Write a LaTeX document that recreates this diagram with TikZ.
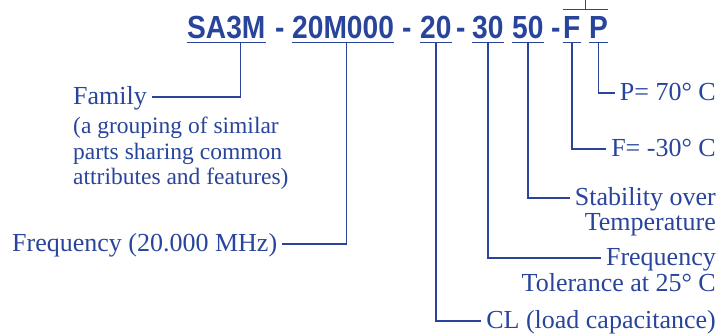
\documentclass[tikz,border=0pt]{standalone}
\usepackage{fontspec}
\setmainfont{Liberation Serif}
\newfontfamily\codefont[FakeStretch=0.88]{Liberation Sans}
\usetikzlibrary{calc,positioning}
\definecolor{partblue}{RGB}{41,69,155}

\tikzset{
  code/.style={inner sep=0pt, anchor=base west, text=partblue,
    font=\codefont\bfseries\fontsize{32}{32}\selectfont},
  desc/.style={inner xsep=5pt, inner ysep=0pt, text=partblue,
    font=\fontsize{26}{26}\selectfont},
  lead/.style={draw=partblue, line width=1.4pt},
}

\begin{document}
\begin{tikzpicture}[x=1pt,y=-1pt]
  \useasboundingbox (0,0) rectangle (721,333);
  % part number
  \node[code] (sa3m) at (187,38) {SA3M};
  \node[code] (dasha) at (275,38) {-};
  \node[code] (freqcode) at (292,38) {20M000};
  \node[code] (dashb) at (402,38) {-};
  \node[code] (clcode) at (420,38) {20};
  \node[code] (dashc) at (456,38) {-};
  \node[code] (tolcode) at (472,38) {30};
  \node[code] (stabcode) at (512,38) {50};
  \node[code] (dashd) at (551,38) {-};
  \node[code] (fcode) at (563,38) {F};
  \node[code] (pcode) at (589,38) {P};
  \foreach \n in {sa3m,freqcode,clcode,tolcode,stabcode,fcode,pcode}{
    \draw[lead] ([yshift=-4pt]\n.south west) -- ([yshift=-4pt]\n.south east);
  }
  \draw[lead] ([yshift=6pt]fcode.north west) -- ([yshift=6pt]pcode.north east);
  \coordinate (fpbar) at ($([yshift=6pt]fcode.north west)!0.5!([yshift=6pt]pcode.north east)$);
  \coordinate (fptop) at (fpbar |- 0,0);
  \draw[lead] (fpbar) -- (fptop);

  % descriptions (base line 7pt below the leader)
  \node[desc, anchor=base west] (family) at (68,104) {Family};
  \node[desc, anchor=north west, align=left, font=\fontsize{23.5}{25.5}\selectfont]
    (familynote) at (68,117)
    {(a grouping of similar\\parts sharing common\\attributes and features)};
  \node[desc, anchor=base west] (mhz) at (7,251) {Frequency (20.000 MHz)};
  \node[desc, anchor=base east] (ptemp) at (721,100) {P= 70° C};
  \node[desc, anchor=base east] (ftemp) at (721,156) {F= -30° C};
  \node[desc, anchor=base east] (stab) at (721,205) {Stability over};
  \node[desc, below=25pt of stab.base east, anchor=base east] (stabb) {Temperature};
  \node[desc, anchor=base east] (tol) at (721,265) {Frequency};
  \node[desc, below=26pt of tol.base east, anchor=base east] (tolb) {Tolerance at 25° C};
  \node[desc, anchor=base east] (cl) at (721,328) {CL (load capacitance)};

  % leaders
  \draw[lead] ([xshift=14pt,yshift=-4pt]sa3m.south) |- ([yshift=7pt]family.base east);
  \draw[lead] ([xshift=3.5pt,yshift=-4pt]freqcode.south) |- ([yshift=7pt]mhz.base east);
  \draw[lead] ([yshift=-4pt]clcode.south) |- ([yshift=7pt]cl.base west);
  \draw[lead] ([yshift=-4pt]tolcode.south) |- ([yshift=7pt]tol.base west);
  \draw[lead] ([yshift=-4pt]stabcode.south) |- ([yshift=7pt]stab.base west);
  \draw[lead] ([yshift=-4pt]fcode.south) |- ([yshift=7pt]ftemp.base west);
  \draw[lead] ([yshift=-4pt]pcode.south) |- ([yshift=7pt]ptemp.base west);
\end{tikzpicture}
\end{document}
